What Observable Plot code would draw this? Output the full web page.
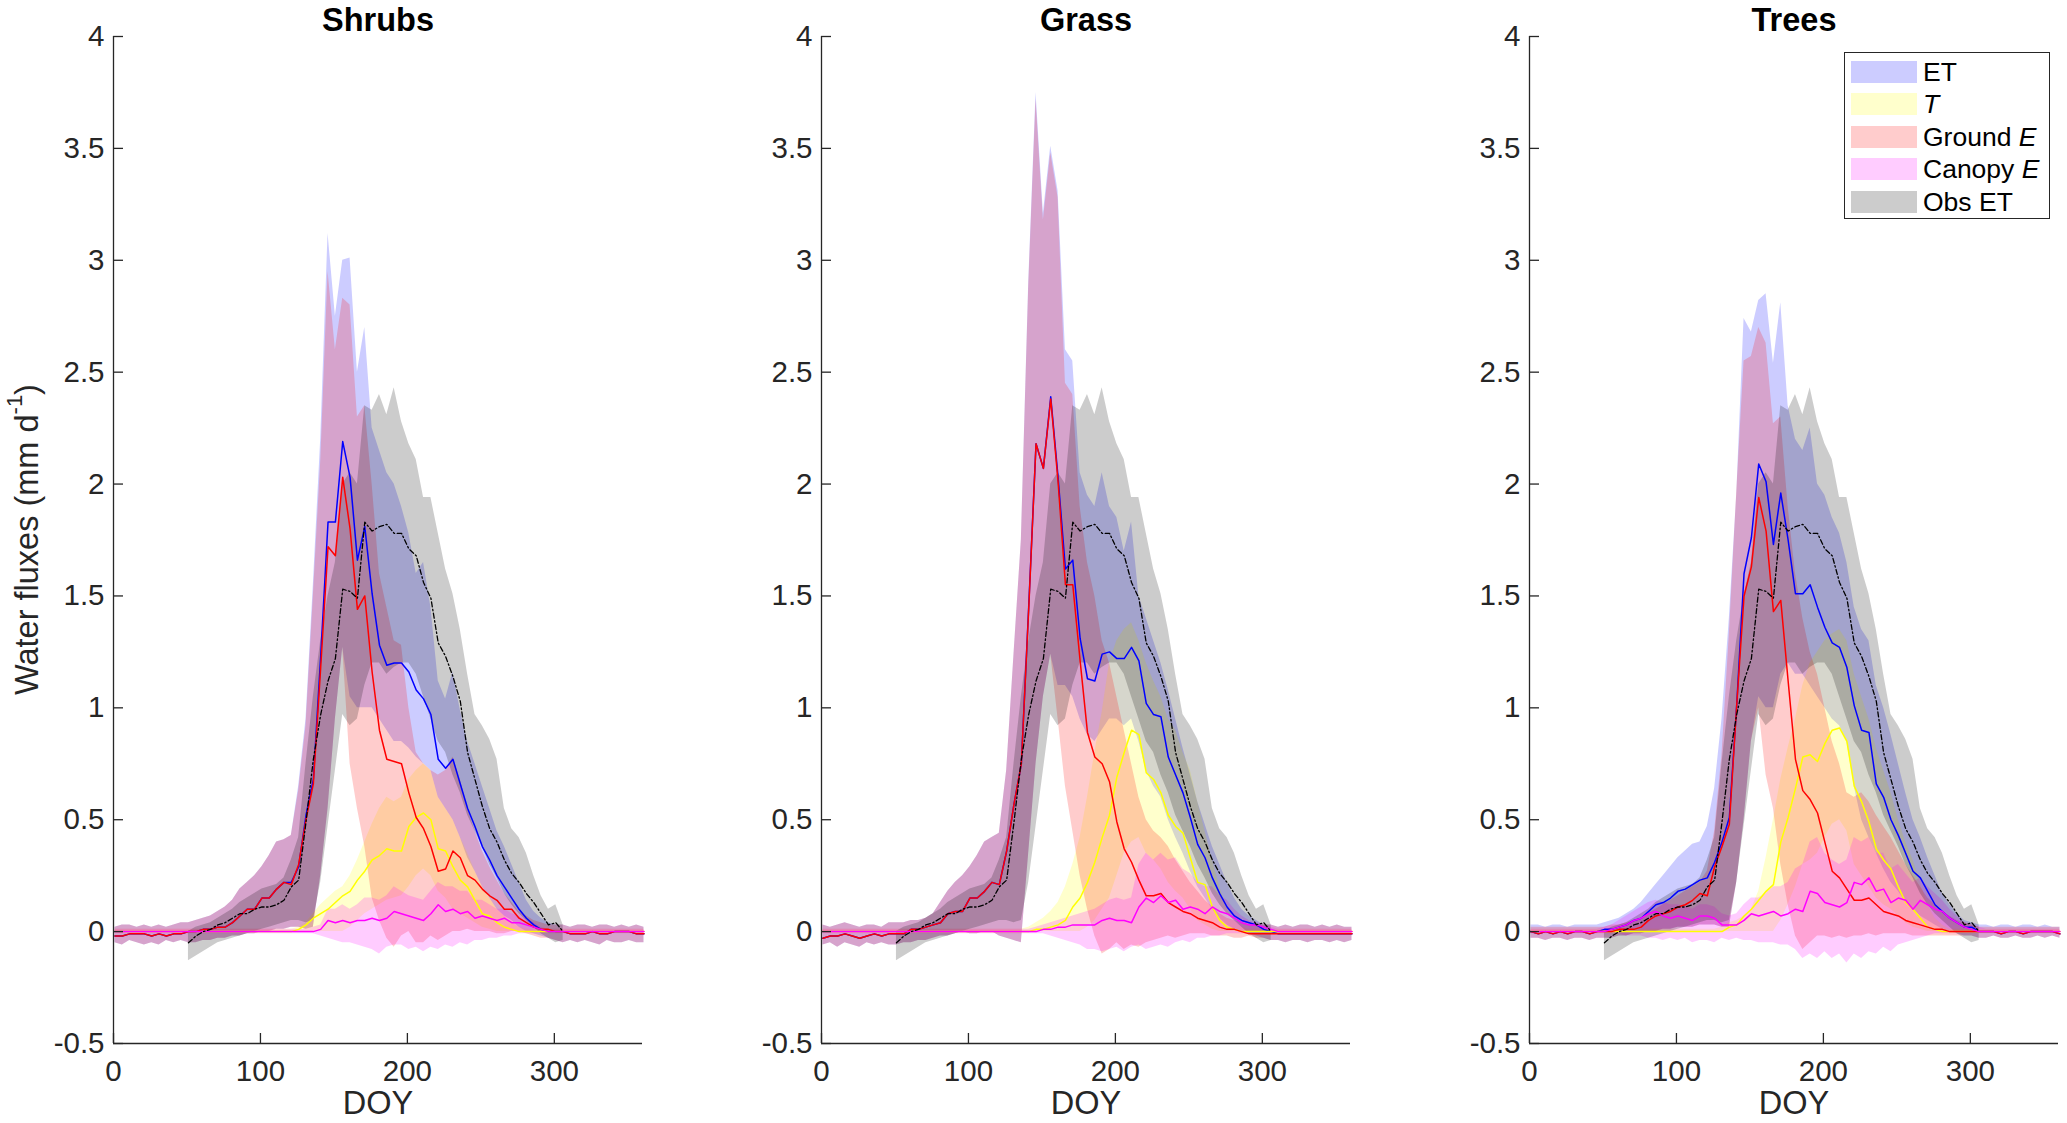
<!DOCTYPE html>
<html>
<head>
<meta charset="utf-8">
<script src="https://cdn.jsdelivr.net/npm/d3@7"></script>
<script src="https://cdn.jsdelivr.net/npm/@observablehq/plot@0.6"></script>
<style>
  body { margin: 0; background: #fff; }
  #chart { position: relative; width: 2067px; height: 1123px; overflow: hidden; font-family: "Liberation Sans", Arial, sans-serif; }
  .panel { position: absolute; top: 0; }
  .legend { position: absolute; left: 1844px; top: 52px; width: 206px; height: 167px; border: 1.3px solid #262626; background: #fff; box-sizing: border-box; }
  .lrow { position: absolute; left: 6px; height: 22px; display: flex; align-items: center; }
  .sw { width: 66px; height: 22px; display: inline-block; }
  .lt { margin-left: 6px; font-size: 26.5px; color: #000; line-height: 22px; white-space: nowrap; }
</style>
</head>
<body>
<div id="chart"></div>
<script>
// ---------- data ----------
const panelTitles = ["Shrubs", "Grass", "Trees"];
const xTicks = [0, 100, 200, 300];
const xTickLabels = ["0", "100", "200", "300"];
const yTicks = [-0.5, 0, 0.5, 1, 1.5, 2, 2.5, 3, 3.5, 4];
const yTickLabels = ["-0.5", "0", "0.5", "1", "1.5", "2", "2.5", "3", "3.5", "4"];
const xDomain = [0, 360];
const yDomain = [-0.5, 4];
const legendLabels = ["ET", "<i>T</i>", "Ground <i>E</i>", "Canopy <i>E</i>", "Obs ET"];

const doy = [1,6,11,16,21,26,31,36,41,46, 51,56,61,66,71,76,81,86,91,96,
  101,106,111,116,121,126,131,136,141,146, 151,156,161,166,171,176,181,186,191,196,
  201,206,211,216,221,226,231,236,241,246, 251,256,261,266,271,276,281,286,291,296,
  301,306,311,316,321,326,331,336,341,346, 351,356,361];

const obsDoy = [51,56,61,66,71,76,81,86,91,96, 101,106,111,116,121,126,131,136,141,146,
  151,156,161,166,171,176,181,186,191,196, 201,206,211,216,221,226,231,236,241,246,
  251,256,261,266,271,276,281,286,291,296, 301,306];
const obsMean = [-0.05,-0.02,0.00,0.01,0.03,0.04,0.06,0.08,0.08,0.10, 0.11,0.11,0.12,0.14,0.20,0.23,0.49,0.77,0.97,1.12,
  1.22,1.53,1.52,1.49,1.83,1.79,1.81,1.82,1.78,1.78, 1.71,1.68,1.56,1.49,1.29,1.23,1.14,1.03,0.80,0.68,
  0.56,0.46,0.40,0.32,0.26,0.22,0.17,0.13,0.08,0.03, 0.04,0.00];
const obsHi = [0.00,0.02,0.03,0.04,0.06,0.08,0.10,0.13,0.15,0.17, 0.19,0.20,0.21,0.24,0.32,0.42,0.75,1.05,1.30,1.50,
  1.65,2.00,2.05,2.00,2.35,2.33,2.40,2.31,2.43,2.28, 2.18,2.11,1.94,1.94,1.78,1.62,1.51,1.35,1.15,0.97,
  0.92,0.86,0.77,0.55,0.46,0.42,0.35,0.25,0.16,0.10, 0.12,0.03];
const obsLo = [-0.13,-0.11,-0.09,-0.07,-0.05,-0.04,-0.03,-0.02,-0.01,0.00, 0.01,0.02,0.03,0.04,0.05,0.05,0.04,0.05,0.22,0.47,
  0.72,0.97,0.92,0.95,1.10,1.20,1.20,1.15,1.18,1.20, 1.20,1.15,1.05,0.95,0.85,0.80,0.70,0.62,0.52,0.45,
  0.38,0.30,0.24,0.17,0.12,0.08,0.05,0.02,-0.01,-0.03, -0.05,-0.04];

// ----- Shrubs -----
const shrubsET = [-0.02,-0.02,-0.01,-0.01,-0.01,-0.02,-0.01,-0.02,-0.01,-0.01, 0.00,0.00,0.01,0.01,0.02,0.02,0.04,0.07,0.10,0.10,
  0.15,0.15,0.19,0.22,0.22,0.29,0.52,0.68,1.23,1.83, 1.83,2.19,2.03,1.66,1.81,1.51,1.28,1.19,1.20,1.20,
  1.16,1.08,1.04,0.97,0.77,0.73,0.77,0.66,0.55,0.47, 0.38,0.32,0.25,0.20,0.15,0.10,0.06,0.03,0.01,0.00,
  0.00,0.00,-0.01,-0.01,-0.01,0.00,-0.01,-0.01,0.00,0.00, 0.00,-0.01,-0.01];
const shrubsEThi = [0.02,0.03,0.03,0.02,0.03,0.02,0.03,0.02,0.03,0.04, 0.04,0.05,0.06,0.07,0.09,0.11,0.14,0.19,0.22,0.25,
  0.29,0.34,0.40,0.41,0.43,0.65,0.95,1.55,2.20,3.12, 2.75,3.00,3.01,2.50,2.70,2.25,2.15,2.05,2.00,1.90,
  1.78,1.60,1.65,1.45,1.12,1.04,1.16,0.99,0.85,0.75, 0.65,0.55,0.45,0.38,0.30,0.22,0.14,0.09,0.06,0.04,
  0.03,0.03,0.02,0.03,0.03,0.02,0.03,0.03,0.02,0.03, 0.02,0.03,0.02];
const shrubsETlo = [-0.05,-0.06,-0.04,-0.05,-0.06,-0.05,-0.06,-0.04,-0.05,-0.04, -0.05,-0.05,-0.04,-0.04,-0.03,-0.03,-0.02,-0.02,-0.01,-0.01,
  0.00,0.00,0.01,0.01,0.02,0.02,0.01,0.02,0.25,0.55, 0.95,1.27,1.05,1.00,1.00,1.00,0.95,0.90,0.85,0.85,
  0.82,0.78,0.75,0.72,0.60,0.55,0.50,0.42,0.33,0.27, 0.20,0.15,0.10,0.07,0.05,0.02,0.00,-0.01,-0.02,-0.03,
  -0.04,-0.05,-0.04,-0.05,-0.04,-0.05,-0.06,-0.04,-0.05,-0.05, -0.04,-0.05,-0.05];
const shrubsT = [0,0,0,0,0,0,0,0,0,0, 0,0,0,0,0,0,0,0,0,0,
  0,0,0,0,0,0.01,0.03,0.06,0.08,0.10, 0.13,0.16,0.18,0.23,0.27,0.32,0.34,0.37,0.36,0.36,
  0.47,0.51,0.53,0.50,0.37,0.36,0.29,0.23,0.20,0.14, 0.08,0.07,0.04,0.02,0.01,0,0,0,0,0,
  0,0,0,0,0,0,0,0,0,0, 0,0,0];
const shrubsThi = [0.01,0.01,0.01,0.01,0.01,0.01,0.01,0.01,0.01,0.01, 0.01,0.01,0.01,0.01,0.01,0.01,0.01,0.01,0.01,0.01,
  0.01,0.01,0.01,0.01,0.01,0.02,0.04,0.08,0.12,0.15, 0.18,0.20,0.25,0.32,0.40,0.48,0.55,0.60,0.58,0.60,
  0.68,0.72,0.75,0.72,0.60,0.55,0.50,0.42,0.35,0.27, 0.20,0.15,0.10,0.07,0.04,0.02,0.01,0.01,0.01,0.01,
  0.01,0.01,0.01,0.01,0.01,0.01,0.01,0.01,0.01,0.01, 0.01,0.01,0.01];
const shrubsTlo = [0,0,0,0,0,0,0,0,0,0, 0,0,0,0,0,0,0,0,0,0,
  0,0,0,0,0,0,0,0,0,0, 0.00,0.00,0.02,0.05,0.08,0.10,0.12,0.14,0.15,0.16,
  0.20,0.25,0.28,0.25,0.18,0.15,0.10,0.08,0.06,0.04, 0.02,0.01,0,0,0,0,0,0,0,0,
  0,0,0,0,0,0,0,0,0,0, 0,0,0];
const shrubsG = [-0.02,-0.02,-0.01,-0.01,-0.01,-0.02,-0.01,-0.02,-0.01,-0.01, 0.00,0.00,0.01,0.01,0.02,0.02,0.04,0.07,0.10,0.10,
  0.15,0.15,0.19,0.22,0.21,0.30,0.50,0.66,1.18,1.72, 1.68,2.03,1.80,1.44,1.50,1.16,0.90,0.77,0.76,0.75,
  0.62,0.51,0.46,0.38,0.27,0.28,0.36,0.33,0.25,0.23, 0.19,0.16,0.14,0.10,0.10,0.06,0.04,0.02,0.01,0.01,
  0.00,0.00,-0.01,-0.01,-0.01,0.00,-0.01,-0.01,0.00,0.00, 0.00,-0.01,-0.01];
const shrubsGhi = [0.02,0.03,0.03,0.02,0.03,0.02,0.03,0.02,0.03,0.04, 0.04,0.05,0.06,0.07,0.09,0.11,0.14,0.19,0.22,0.25,
  0.29,0.34,0.40,0.41,0.43,0.63,0.92,1.50,2.10,2.95, 2.60,2.83,2.80,2.30,2.35,2.00,1.60,1.45,1.30,1.28,
  1.00,0.80,0.75,0.72,0.70,0.72,0.78,0.68,0.55,0.45, 0.36,0.29,0.23,0.17,0.13,0.09,0.07,0.05,0.04,0.03,
  0.03,0.03,0.02,0.03,0.03,0.02,0.03,0.03,0.02,0.03, 0.02,0.03,0.02];
const shrubsGlo = [-0.05,-0.06,-0.04,-0.05,-0.06,-0.05,-0.06,-0.04,-0.05,-0.04, -0.05,-0.05,-0.04,-0.04,-0.03,-0.03,-0.02,-0.02,-0.01,-0.01,
  0.00,0.00,0.01,0.01,0.02,0.02,0.01,0.02,0.25,0.55, 0.95,1.27,0.75,0.55,0.38,0.15,0.05,-0.03,-0.07,-0.02,
  0.00,-0.05,-0.05,-0.02,-0.04,-0.02,0.00,0.00,0.01,0.00, 0.00,0.00,-0.01,-0.01,0.00,0.00,-0.01,-0.02,-0.03,-0.03,
  -0.04,-0.05,-0.04,-0.05,-0.04,-0.05,-0.06,-0.04,-0.05,-0.05, -0.04,-0.05,-0.05];
const shrubsC = [0,0,0,0,0,0,0,0,0,0, 0,0,0,0,0,0,0,0,0,0,
  0,0,0,0,0,0,0,0,0.01,0.05, 0.04,0.05,0.04,0.05,0.05,0.06,0.05,0.06,0.09,0.08,
  0.07,0.06,0.05,0.08,0.12,0.09,0.10,0.08,0.09,0.06, 0.07,0.06,0.05,0.06,0.04,0.04,0.03,0.02,0.01,0.00,
  0,0,0,0,0,0,0,0,0,0, 0,0,0];
const shrubsChi = [0.01,0.01,0.01,0.01,0.01,0.01,0.01,0.01,0.01,0.01, 0.01,0.01,0.01,0.01,0.01,0.01,0.01,0.01,0.01,0.01,
  0.01,0.01,0.01,0.01,0.01,0.01,0.01,0.02,0.03,0.10, 0.10,0.12,0.10,0.12,0.15,0.15,0.14,0.16,0.20,0.18,
  0.16,0.15,0.14,0.18,0.22,0.20,0.20,0.18,0.18,0.14, 0.14,0.12,0.10,0.10,0.08,0.07,0.05,0.04,0.02,0.01,
  0.01,0.01,0.01,0.01,0.01,0.01,0.01,0.01,0.01,0.01, 0.01,0.01,0.01];
const shrubsClo = [-0.01,-0.01,-0.01,-0.01,-0.01,-0.01,-0.01,-0.01,-0.01,-0.01, -0.01,-0.01,-0.01,-0.01,-0.01,-0.01,-0.01,-0.01,-0.01,-0.01,
  -0.01,-0.01,-0.01,-0.01,-0.01,-0.01,-0.01,-0.01,-0.02,-0.03, -0.04,-0.05,-0.05,-0.06,-0.07,-0.08,-0.10,-0.07,-0.06,-0.06,
  -0.08,-0.07,-0.09,-0.07,-0.08,-0.06,-0.07,-0.05,-0.06,-0.04, -0.04,-0.03,-0.03,-0.02,-0.02,-0.01,-0.01,-0.01,-0.01,-0.01,
  -0.01,-0.01,-0.01,-0.01,-0.01,-0.01,-0.01,-0.01,-0.01,-0.01, -0.01,-0.01,-0.01];

// ----- Grass -----
const grassET = [-0.03,-0.02,-0.02,-0.01,-0.02,-0.03,-0.02,-0.01,-0.02,-0.01, -0.01,-0.01,0.01,0.01,0.02,0.03,0.04,0.08,0.09,0.09,
  0.15,0.15,0.18,0.22,0.21,0.36,0.57,0.75,1.45,2.18, 2.07,2.39,2.03,1.62,1.66,1.31,1.13,1.12,1.24,1.25,
  1.22,1.22,1.27,1.21,1.02,0.97,0.96,0.78,0.70,0.62, 0.51,0.39,0.33,0.24,0.17,0.11,0.07,0.05,0.04,0.03,
  0.01,0.00,-0.01,-0.01,-0.01,-0.01,-0.01,-0.01,-0.01,-0.01, -0.01,-0.01,-0.01];
const grassEThi = [0.03,0.02,0.03,0.04,0.03,0.02,0.03,0.03,0.02,0.04, 0.04,0.04,0.05,0.05,0.06,0.08,0.13,0.18,0.22,0.25,
  0.29,0.34,0.40,0.42,0.44,0.72,1.24,1.75,2.90,3.75, 3.21,3.51,3.31,2.60,2.55,2.05,1.95,1.90,2.05,1.90,
  1.85,1.70,1.83,1.50,1.40,1.30,1.20,1.08,0.95,0.82, 0.70,0.58,0.48,0.38,0.30,0.22,0.15,0.10,0.07,0.05,
  0.03,0.03,0.02,0.03,0.02,0.03,0.03,0.02,0.03,0.02, 0.03,0.02,0.02];
const grassETlo = [-0.06,-0.05,-0.07,-0.05,-0.06,-0.07,-0.05,-0.06,-0.05,-0.06, -0.06,-0.05,-0.05,-0.04,-0.04,-0.03,-0.02,-0.02,-0.01,0.00,
  -0.01,-0.01,0.00,0.00,-0.02,-0.03,-0.04,-0.05,0.35,0.75, 1.05,1.24,1.10,1.10,1.05,0.95,0.88,0.85,0.90,0.95,
  0.95,0.92,0.95,0.85,0.72,0.65,0.60,0.50,0.42,0.35, 0.27,0.20,0.15,0.10,0.06,0.03,0.01,0.00,-0.01,-0.02,
  -0.03,-0.04,-0.04,-0.05,-0.04,-0.04,-0.05,-0.04,-0.04,-0.05, -0.04,-0.05,-0.04];
const grassT = [0,0,0,0,0,0,0,0,0,0, 0,0,0,0,0,0,0,0,0,0,
  0,0,0,0,0,0,0,0,0,0.01, 0.01,0.02,0.03,0.05,0.11,0.15,0.22,0.31,0.42,0.52,
  0.69,0.80,0.90,0.88,0.71,0.68,0.62,0.52,0.47,0.44, 0.33,0.22,0.21,0.11,0.05,0.02,0.01,0,0,0,
  0,0,0,0,0,0,0,0,0,0, 0,0,0];
const grassThi = [0.01,0.01,0.01,0.01,0.01,0.01,0.01,0.01,0.01,0.01, 0.01,0.01,0.01,0.01,0.01,0.01,0.01,0.01,0.01,0.01,
  0.01,0.01,0.01,0.01,0.01,0.01,0.01,0.01,0.02,0.04, 0.06,0.09,0.13,0.20,0.30,0.42,0.60,0.80,0.98,1.20,
  1.30,1.35,1.38,1.30,1.20,1.12,1.05,0.95,0.90,0.80, 0.72,0.58,0.45,0.32,0.20,0.10,0.05,0.02,0.01,0.01,
  0.01,0.01,0.01,0.01,0.01,0.01,0.01,0.01,0.01,0.01, 0.01,0.01,0.01];
const grassTlo = [0,0,0,0,0,0,0,0,0,0, 0,0,0,0,0,0,0,0,0,0,
  0,0,0,0,0,0,0,0,0,0, 0,0,0,0,0,0,0.02,0.05,0.10,0.15,
  0.25,0.35,0.40,0.42,0.35,0.32,0.28,0.22,0.18,0.15, 0.10,0.05,0.03,0.01,0,0,0,0,0,0,
  0,0,0,0,0,0,0,0,0,0, 0,0,0];
const grassG = [-0.03,-0.02,-0.02,-0.01,-0.02,-0.03,-0.02,-0.01,-0.02,-0.01, -0.01,-0.01,0.01,0.01,0.02,0.03,0.04,0.08,0.09,0.09,
  0.15,0.15,0.18,0.22,0.21,0.36,0.57,0.75,1.44,2.18, 2.07,2.38,2.01,1.55,1.55,1.21,0.89,0.78,0.75,0.67,
  0.49,0.37,0.31,0.23,0.16,0.16,0.17,0.13,0.11,0.09, 0.08,0.06,0.05,0.04,0.02,0.01,0.01,0.00,-0.01,-0.01,
  -0.01,-0.01,-0.01,-0.01,-0.01,-0.01,-0.01,-0.01,-0.01,-0.01, -0.01,-0.01,-0.01];
const grassGhi = [0.03,0.02,0.03,0.04,0.03,0.02,0.03,0.03,0.02,0.04, 0.04,0.04,0.05,0.05,0.06,0.08,0.13,0.18,0.22,0.25,
  0.29,0.34,0.40,0.42,0.44,0.72,1.24,1.75,2.88,3.72, 3.18,3.48,3.28,2.45,2.40,1.90,1.65,1.50,1.30,1.20,
  1.05,0.90,0.75,0.60,0.50,0.45,0.42,0.38,0.32,0.27, 0.22,0.18,0.14,0.11,0.08,0.06,0.05,0.04,0.03,0.03,
  0.03,0.03,0.02,0.03,0.02,0.03,0.03,0.02,0.03,0.02, 0.03,0.02,0.02];
const grassGlo = [-0.06,-0.05,-0.07,-0.05,-0.06,-0.07,-0.05,-0.06,-0.05,-0.06, -0.06,-0.05,-0.05,-0.04,-0.04,-0.03,-0.02,-0.02,-0.01,0.00,
  -0.01,-0.01,0.00,0.00,-0.02,-0.03,-0.04,-0.05,0.35,0.75, 1.05,1.24,0.95,0.65,0.45,0.25,0.10,-0.02,-0.10,-0.08,
  -0.05,-0.08,-0.06,-0.07,-0.05,-0.04,-0.03,-0.02,-0.03,-0.02, -0.01,-0.01,-0.01,-0.02,-0.02,-0.02,-0.03,-0.03,-0.02,-0.03,
  -0.03,-0.04,-0.04,-0.05,-0.04,-0.04,-0.05,-0.04,-0.04,-0.05, -0.04,-0.05,-0.04];
const grassC = [0,0,0,0,0,0,0,0,0,0, 0,0,0,0,0,0,0,0,0,0,
  0,0,0,0,0,0,0,0,0,0, 0.01,0.01,0.02,0.02,0.03,0.03,0.03,0.03,0.05,0.06,
  0.05,0.05,0.04,0.11,0.15,0.13,0.16,0.13,0.14,0.10, 0.11,0.10,0.08,0.11,0.09,0.08,0.06,0.04,0.03,0.03,
  0.02,0.01,0,0,0,0,0,0,0,0, 0,0,0];
const grassChi = [0.01,0.01,0.01,0.01,0.01,0.01,0.01,0.01,0.01,0.01, 0.01,0.01,0.01,0.01,0.01,0.01,0.01,0.01,0.01,0.01,
  0.01,0.01,0.01,0.01,0.01,0.01,0.01,0.01,0.01,0.02, 0.03,0.04,0.05,0.06,0.07,0.08,0.09,0.10,0.12,0.14,
  0.15,0.14,0.15,0.30,0.35,0.32,0.35,0.32,0.33,0.28, 0.26,0.22,0.20,0.20,0.16,0.14,0.10,0.07,0.05,0.04,
  0.03,0.02,0.01,0.01,0.01,0.01,0.01,0.01,0.01,0.01, 0.01,0.01,0.01];
const grassClo = [-0.01,-0.01,-0.01,-0.01,-0.01,-0.01,-0.01,-0.01,-0.01,-0.01, -0.01,-0.01,-0.01,-0.01,-0.01,-0.01,-0.01,-0.01,-0.01,-0.01,
  -0.01,-0.01,-0.01,-0.01,-0.01,-0.01,-0.01,-0.01,-0.01,-0.01, -0.01,-0.02,-0.03,-0.04,-0.05,-0.06,-0.08,-0.08,-0.09,-0.08,
  -0.07,-0.09,-0.07,-0.06,-0.08,-0.07,-0.06,-0.07,-0.05,-0.04, -0.05,-0.03,-0.03,-0.02,-0.02,-0.01,-0.01,-0.01,-0.01,-0.01,
  -0.01,-0.01,-0.01,-0.01,-0.01,-0.01,-0.01,-0.01,-0.01,-0.01, -0.01,-0.01,-0.01];

// ----- Trees -----
const treesET = [0.00,-0.01,0.00,-0.01,0.00,-0.01,0.00,0.00,-0.01,0.00, 0.01,0.01,0.02,0.03,0.05,0.06,0.09,0.12,0.13,0.15,
  0.18,0.19,0.21,0.23,0.24,0.31,0.40,0.51,1.01,1.60, 1.76,2.09,2.01,1.73,1.96,1.75,1.51,1.51,1.55,1.45,
  1.36,1.29,1.27,1.18,1.01,0.90,0.89,0.66,0.60,0.50, 0.43,0.35,0.27,0.24,0.18,0.12,0.09,0.06,0.04,0.02,
  0.02,0.00,0.00,0.00,-0.01,0.00,0.00,-0.01,0.00,0.00, 0.00,0.00,-0.01];
const treesEThi = [0.03,0.03,0.02,0.03,0.03,0.02,0.03,0.03,0.03,0.03, 0.04,0.05,0.06,0.08,0.10,0.13,0.17,0.21,0.25,0.29,
  0.33,0.36,0.39,0.40,0.47,0.64,0.95,1.40,1.95,2.74, 2.68,2.82,2.85,2.54,2.81,2.35,2.20,2.15,2.25,2.00,
  1.95,1.85,1.78,1.65,1.45,1.35,1.30,1.10,1.00,0.88, 0.75,0.62,0.50,0.42,0.33,0.25,0.17,0.12,0.08,0.05,
  0.04,0.03,0.03,0.02,0.03,0.03,0.02,0.03,0.03,0.02, 0.03,0.02,0.02];
const treesETlo = [-0.03,-0.03,-0.04,-0.03,-0.03,-0.04,-0.03,-0.03,-0.04,-0.03, -0.03,-0.03,-0.02,-0.02,-0.01,-0.01,0.00,0.00,0.01,0.01,
  0.02,0.02,0.02,0.03,0.03,0.03,0.02,0.02,0.22,0.50, 0.85,1.05,1.00,1.00,1.15,1.20,1.15,1.15,1.10,1.05,
  1.00,0.95,0.92,0.85,0.65,0.50,0.42,0.35,0.28,0.22, 0.18,0.13,0.10,0.07,0.05,0.03,0.01,0.00,-0.01,-0.02,
  -0.02,-0.03,-0.03,-0.02,-0.03,-0.03,-0.02,-0.03,-0.03,-0.02, -0.03,-0.02,-0.03];
const treesT = [0,0,0,0,0,0,0,0,0,0, 0,0,0,0,0,0,0,0,0,0,
  0,0,0,0,0,0,0,0.02,0.03,0.07, 0.10,0.14,0.18,0.21,0.40,0.51,0.64,0.78,0.79,0.76,
  0.84,0.90,0.91,0.85,0.65,0.58,0.49,0.37,0.32,0.28, 0.20,0.13,0.10,0.06,0.02,0.01,0,0,0,0,
  0,0,0,0,0,0,0,0,0,0, 0,0,0];
const treesThi = [0.01,0.01,0.01,0.01,0.01,0.01,0.01,0.01,0.01,0.01, 0.01,0.01,0.01,0.01,0.01,0.01,0.01,0.01,0.01,0.01,
  0.01,0.01,0.01,0.01,0.01,0.01,0.02,0.04,0.05,0.07, 0.10,0.18,0.33,0.50,0.68,0.82,0.95,1.10,1.20,1.25,
  1.30,1.33,1.35,1.30,1.15,1.05,0.95,0.82,0.72,0.62, 0.50,0.40,0.32,0.22,0.12,0.06,0.03,0.01,0.01,0.01,
  0.01,0.01,0.01,0.01,0.01,0.01,0.01,0.01,0.01,0.01, 0.01,0.01,0.01];
const treesTlo = [0,0,0,0,0,0,0,0,0,0, 0,0,0,0,0,0,0,0,0,0,
  0,0,0,0,0,0,0,0,0,0, 0,0,0,0,0.05,0.12,0.20,0.30,0.32,0.35,
  0.42,0.48,0.50,0.45,0.30,0.25,0.20,0.15,0.12,0.10, 0.07,0.04,0.02,0.01,0,0,0,0,0,0,
  0,0,0,0,0,0,0,0,0,0, 0,0,0];
const treesG = [0.00,-0.01,0.00,-0.01,0.00,-0.01,0.00,0.00,-0.01,0.00, 0.00,0.00,0.01,0.01,0.01,0.02,0.05,0.07,0.08,0.09,
  0.11,0.12,0.14,0.17,0.16,0.29,0.38,0.48,1.01,1.50, 1.63,1.94,1.79,1.43,1.48,1.12,0.77,0.63,0.59,0.53,
  0.40,0.27,0.24,0.19,0.14,0.14,0.15,0.12,0.09,0.08, 0.07,0.05,0.04,0.03,0.02,0.01,0.01,0.00,0.00,0.00,
  0.00,0.00,0.00,0.00,-0.01,0.00,0.00,-0.01,0.00,0.00, 0.00,0.00,-0.01];
const treesGhi = [0.02,0.02,0.02,0.02,0.02,0.02,0.02,0.02,0.02,0.02, 0.02,0.03,0.03,0.04,0.05,0.06,0.08,0.10,0.12,0.14,
  0.16,0.18,0.20,0.22,0.27,0.45,0.79,1.33,1.96,2.55, 2.57,2.70,2.63,2.27,2.30,1.90,1.60,1.40,1.25,1.15,
  1.00,0.85,0.75,0.62,0.60,0.62,0.58,0.52,0.47,0.42, 0.36,0.30,0.25,0.20,0.15,0.12,0.09,0.07,0.05,0.04,
  0.03,0.02,0.02,0.02,0.02,0.02,0.02,0.02,0.02,0.02, 0.02,0.02,0.02];
const treesGlo = [-0.03,-0.03,-0.04,-0.03,-0.03,-0.04,-0.03,-0.03,-0.04,-0.03, -0.03,-0.03,-0.02,-0.02,-0.01,-0.01,0.00,0.00,0.01,0.01,
  0.02,0.02,0.02,0.03,0.03,0.03,0.02,0.02,0.22,0.50, 0.85,1.00,0.70,0.55,0.30,0.12,-0.02,-0.08,-0.05,-0.02,
  -0.02,-0.03,-0.02,-0.03,-0.02,-0.02,-0.01,-0.02,-0.01,-0.01, -0.01,-0.01,-0.02,-0.02,-0.02,-0.02,-0.02,-0.02,-0.02,-0.02,
  -0.02,-0.03,-0.03,-0.02,-0.03,-0.03,-0.02,-0.03,-0.03,-0.02, -0.03,-0.02,-0.03];
const treesC = [0,0,0,0,0,0,0,0,0,0, 0.00,0.01,0.02,0.03,0.05,0.06,0.08,0.09,0.07,0.06,
  0.07,0.06,0.05,0.07,0.07,0.06,0.03,0.03,0.03,0.05, 0.08,0.07,0.08,0.09,0.07,0.08,0.10,0.09,0.18,0.17,
  0.13,0.12,0.11,0.13,0.22,0.21,0.24,0.18,0.19,0.13, 0.15,0.14,0.10,0.14,0.12,0.10,0.09,0.06,0.04,0.02,
  0.01,0,0,0,0,0,0,0,0,0, 0,0,0];
const treesChi = [0.01,0.01,0.01,0.01,0.01,0.01,0.01,0.01,0.01,0.01, 0.02,0.03,0.05,0.07,0.09,0.11,0.13,0.14,0.13,0.12,
  0.12,0.11,0.10,0.12,0.12,0.11,0.08,0.07,0.08,0.12, 0.15,0.15,0.17,0.20,0.20,0.22,0.28,0.30,0.40,0.42,
  0.35,0.32,0.30,0.32,0.42,0.40,0.42,0.35,0.35,0.28, 0.30,0.26,0.22,0.24,0.20,0.17,0.14,0.10,0.07,0.04,
  0.03,0.02,0.01,0.01,0.01,0.01,0.01,0.01,0.01,0.01, 0.01,0.01,0.01];
const treesClo = [-0.01,-0.01,-0.01,-0.01,-0.01,-0.01,-0.01,-0.01,-0.01,-0.01, -0.01,-0.01,-0.01,-0.02,-0.02,-0.02,-0.03,-0.03,-0.04,-0.03,
  -0.04,-0.03,-0.05,-0.04,-0.04,-0.05,-0.03,-0.04,-0.03,-0.04, -0.04,-0.05,-0.05,-0.05,-0.06,-0.06,-0.08,-0.12,-0.10,-0.12,
  -0.09,-0.12,-0.10,-0.14,-0.10,-0.12,-0.09,-0.10,-0.07,-0.09, -0.06,-0.05,-0.04,-0.03,-0.02,-0.01,-0.01,-0.01,-0.01,-0.01,
  -0.01,-0.01,-0.01,-0.01,-0.01,-0.01,-0.01,-0.01,-0.01,-0.01, -0.01,-0.01,-0.01];

// ---------- styles ----------
const colors = {et: "#0000ff", t: "#ffff00", g: "#ff0000", c: "#ff00ff", obs: "#000000"};
const bandOpacity = 0.2;
const axisColor = "#262626";
const fontFam = "'Liberation Sans', Arial, Helvetica, sans-serif";

const panels = [
  {title: panelTitles[0], et: shrubsET, etHi: shrubsEThi, etLo: shrubsETlo, t: shrubsT, tHi: shrubsThi, tLo: shrubsTlo,
   g: shrubsG, gHi: shrubsGhi, gLo: shrubsGlo, c: shrubsC, cHi: shrubsChi, cLo: shrubsClo, left: 0, marginRight: 10},
  {title: panelTitles[1], et: grassET, etHi: grassEThi, etLo: grassETlo, t: grassT, tHi: grassThi, tLo: grassTlo,
   g: grassG, gHi: grassGhi, gLo: grassGlo, c: grassC, cHi: grassChi, cLo: grassClo, left: 708, marginRight: 10},
  {title: panelTitles[2], et: treesET, etHi: treesEThi, etLo: treesETlo, t: treesT, tHi: treesThi, tLo: treesTlo,
   g: treesG, gHi: treesGhi, gLo: treesGlo, c: treesC, cHi: treesChi, cLo: treesClo, left: 1416, marginRight: 8}
];

const obsRows = obsDoy.map((d, i) => ({doy: d, mean: obsMean[i], hi: obsHi[i], lo: obsLo[i]}));

const marginLeft = 113, plotW = 529, marginTop = 36, marginBottom = 80, H = 1123;
const plotH = H - marginTop - marginBottom;
const tickLen = 10;
const yLabelMap = new Map(yTicks.map((t, i) => [t, yTickLabels[i]]));
const xLabelMap = new Map(xTicks.map((t, i) => [t, xTickLabels[i]]));

const chart = document.getElementById("chart");

panels.forEach((p, pi) => {
  const rows = doy.map((d, i) => ({
    doy: d, et: p.et[i], etHi: p.etHi[i], etLo: p.etLo[i], t: p.t[i], tHi: p.tHi[i], tLo: p.tLo[i],
    g: p.g[i], gHi: p.gHi[i], gLo: p.gLo[i], c: p.c[i], cHi: p.cHi[i], cLo: p.cLo[i]
  }));
  const W = marginLeft + plotW + p.marginRight;
  const svg = Plot.plot({
    width: W, height: H,
    marginLeft, marginRight: p.marginRight, marginTop, marginBottom,
    style: {fontFamily: fontFam, fontSize: "29.5px", color: axisColor, background: "transparent"},
    x: {domain: xDomain, axis: null},
    y: {domain: yDomain, axis: null},
    marks: [
      Plot.areaY(rows, {x: "doy", y1: "etLo", y2: "etHi", fill: colors.et, fillOpacity: bandOpacity}),
      Plot.areaY(rows, {x: "doy", y1: "tLo", y2: "tHi", fill: colors.t, fillOpacity: bandOpacity}),
      Plot.areaY(rows, {x: "doy", y1: "gLo", y2: "gHi", fill: colors.g, fillOpacity: bandOpacity}),
      Plot.areaY(rows, {x: "doy", y1: "cLo", y2: "cHi", fill: colors.c, fillOpacity: bandOpacity}),
      Plot.areaY(obsRows, {x: "doy", y1: "lo", y2: "hi", fill: colors.obs, fillOpacity: bandOpacity}),
      Plot.line(rows, {x: "doy", y: "et", stroke: colors.et, strokeWidth: 1.5}),
      Plot.line(rows, {x: "doy", y: "t", stroke: colors.t, strokeWidth: 1.5}),
      Plot.line(rows, {x: "doy", y: "g", stroke: colors.g, strokeWidth: 1.5}),
      Plot.line(rows, {x: "doy", y: "c", stroke: colors.c, strokeWidth: 1.5}),
      Plot.line(obsRows, {x: "doy", y: "mean", stroke: colors.obs, strokeWidth: 1.3, strokeDasharray: "5,2.5,1.5,2.5"}),
      // axis lines
      Plot.ruleX([xDomain[0]], {stroke: axisColor, strokeWidth: 1.3}),
      Plot.ruleY([yDomain[0]], {stroke: axisColor, strokeWidth: 1.3}),
      // inward ticks
      Plot.tickY(yTicks, {y: d => d, stroke: axisColor, strokeWidth: 1.3, insetRight: plotW - tickLen}),
      Plot.tickX(xTicks, {x: d => d, stroke: axisColor, strokeWidth: 1.3, insetTop: plotH - tickLen}),
      // tick labels
      Plot.axisY({ticks: yTicks, tickSize: 0, tickPadding: 9, tickFormat: d => yLabelMap.get(d), label: null, fontSize: 29.5, fill: axisColor}),
      Plot.axisX({ticks: xTicks, tickSize: 0, tickPadding: 17, tickFormat: d => xLabelMap.get(d), label: null, fontSize: 29.5, fill: axisColor}),
      // title and x label
      Plot.text([p.title], {text: d => d, frameAnchor: "top", lineAnchor: "middle", dy: 20 - marginTop, fontSize: 32.5, fontWeight: "bold", fill: "#000"}),
      Plot.text(["DOY"], {text: d => d, frameAnchor: "bottom", lineAnchor: "middle", dy: 1103 - (H - marginBottom), fontSize: 32.5, fill: axisColor})
    ]
  });
  svg.classList.add("panel");
  svg.style.left = p.left + "px";
  chart.appendChild(svg);

  if (pi === 0) {
    const s = d3.select(svg);
    const cy = marginTop + plotH / 2;
    const t = s.append("text")
      .attr("transform", `translate(27,${cy}) rotate(-90)`)
      .attr("text-anchor", "middle")
      .attr("dominant-baseline", "central")
      .attr("font-size", 32.5)
      .attr("font-family", fontFam)
      .attr("fill", axisColor);
    t.append("tspan").text("Water fluxes (mm d");
    t.append("tspan").attr("font-size", 22).attr("dy", -13).text("-1");
    t.append("tspan").attr("dy", 13).text(")");
  }
});

// legend
const legendColors = [colors.et, colors.t, colors.g, colors.c, colors.obs];
const legend = document.createElement("div");
legend.className = "legend";
legendLabels.forEach((lab, i) => {
  const row = document.createElement("div");
  row.className = "lrow";
  row.style.top = (8 + i * 32.4) + "px";
  const sw = document.createElement("span");
  sw.className = "sw";
  sw.style.background = legendColors[i];
  sw.style.opacity = bandOpacity;
  const tx = document.createElement("span");
  tx.className = "lt";
  tx.innerHTML = lab;
  row.appendChild(sw);
  row.appendChild(tx);
  legend.appendChild(row);
});
chart.appendChild(legend);
</script>
</body>
</html>
